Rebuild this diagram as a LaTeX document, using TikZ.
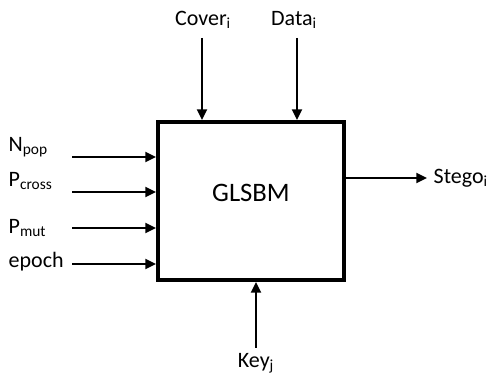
\documentclass[tikz,border=0pt]{standalone}
\usepackage{fontspec}
\setmainfont{Carlito}
\usepackage{tikz}
\usetikzlibrary{arrows.meta}

\begin{document}
\begin{tikzpicture}[x=0.75pt,y=0.75pt,font=\fontsize{16.5}{19}\selectfont,
    inarrow/.style={line width=1.5pt,-{Triangle[length=8pt,width=7.5pt]}}]
  \useasboundingbox (0,0) rectangle (487,378);
  \node[draw,line width=3pt,minimum width=139.5pt,minimum height=118.5pt] (glsbm) at (251,177) {};
  \node (title) at (251,185) {\fontsize{20}{24}\selectfont GLSBM};
  % inputs on the left
  \node[anchor=west] (npop) at (4,231) {N\textsubscript{pop}};
  \node[anchor=west] (pcross) at (4,197) {P\textsubscript{cross}};
  \node[anchor=west] (pmut) at (4,150) {P\textsubscript{mut}};
  \node[anchor=west] (epoch) at (4,116) {epoch};
  \coordinate (s1) at (72,221); \coordinate (s2) at (72,186);
  \coordinate (s3) at (72,150); \coordinate (s4) at (72,114);
  \foreach \s in {s1,s2,s3,s4}
    \draw[inarrow] (\s) -- (\s -| glsbm.west);
  % inputs on top
  \node (cover) at (203,358) {Cover\textsubscript{i}};
  \node (data) at (294,358) {Data\textsubscript{i}};
  \coordinate (c1) at (202,340); \coordinate (d1) at (297,340);
  \draw[inarrow] (c1) -- (c1 |- glsbm.north);
  \draw[inarrow] (d1) -- (d1 |- glsbm.north);
  % key from below
  \node (key) at (256,15) {Key\textsubscript{j}};
  \coordinate (k1) at (256,30);
  \draw[inarrow] (k1) -- (k1 |- glsbm.south);
  % output
  \node[anchor=west] (stego) at (429,200) {Stego\textsubscript{i}};
  \coordinate (o1) at (glsbm.east |- 0,200);
  \coordinate (o2) at (427,200);
  \draw[inarrow] (o1) -- (o2);
\end{tikzpicture}
\end{document}
